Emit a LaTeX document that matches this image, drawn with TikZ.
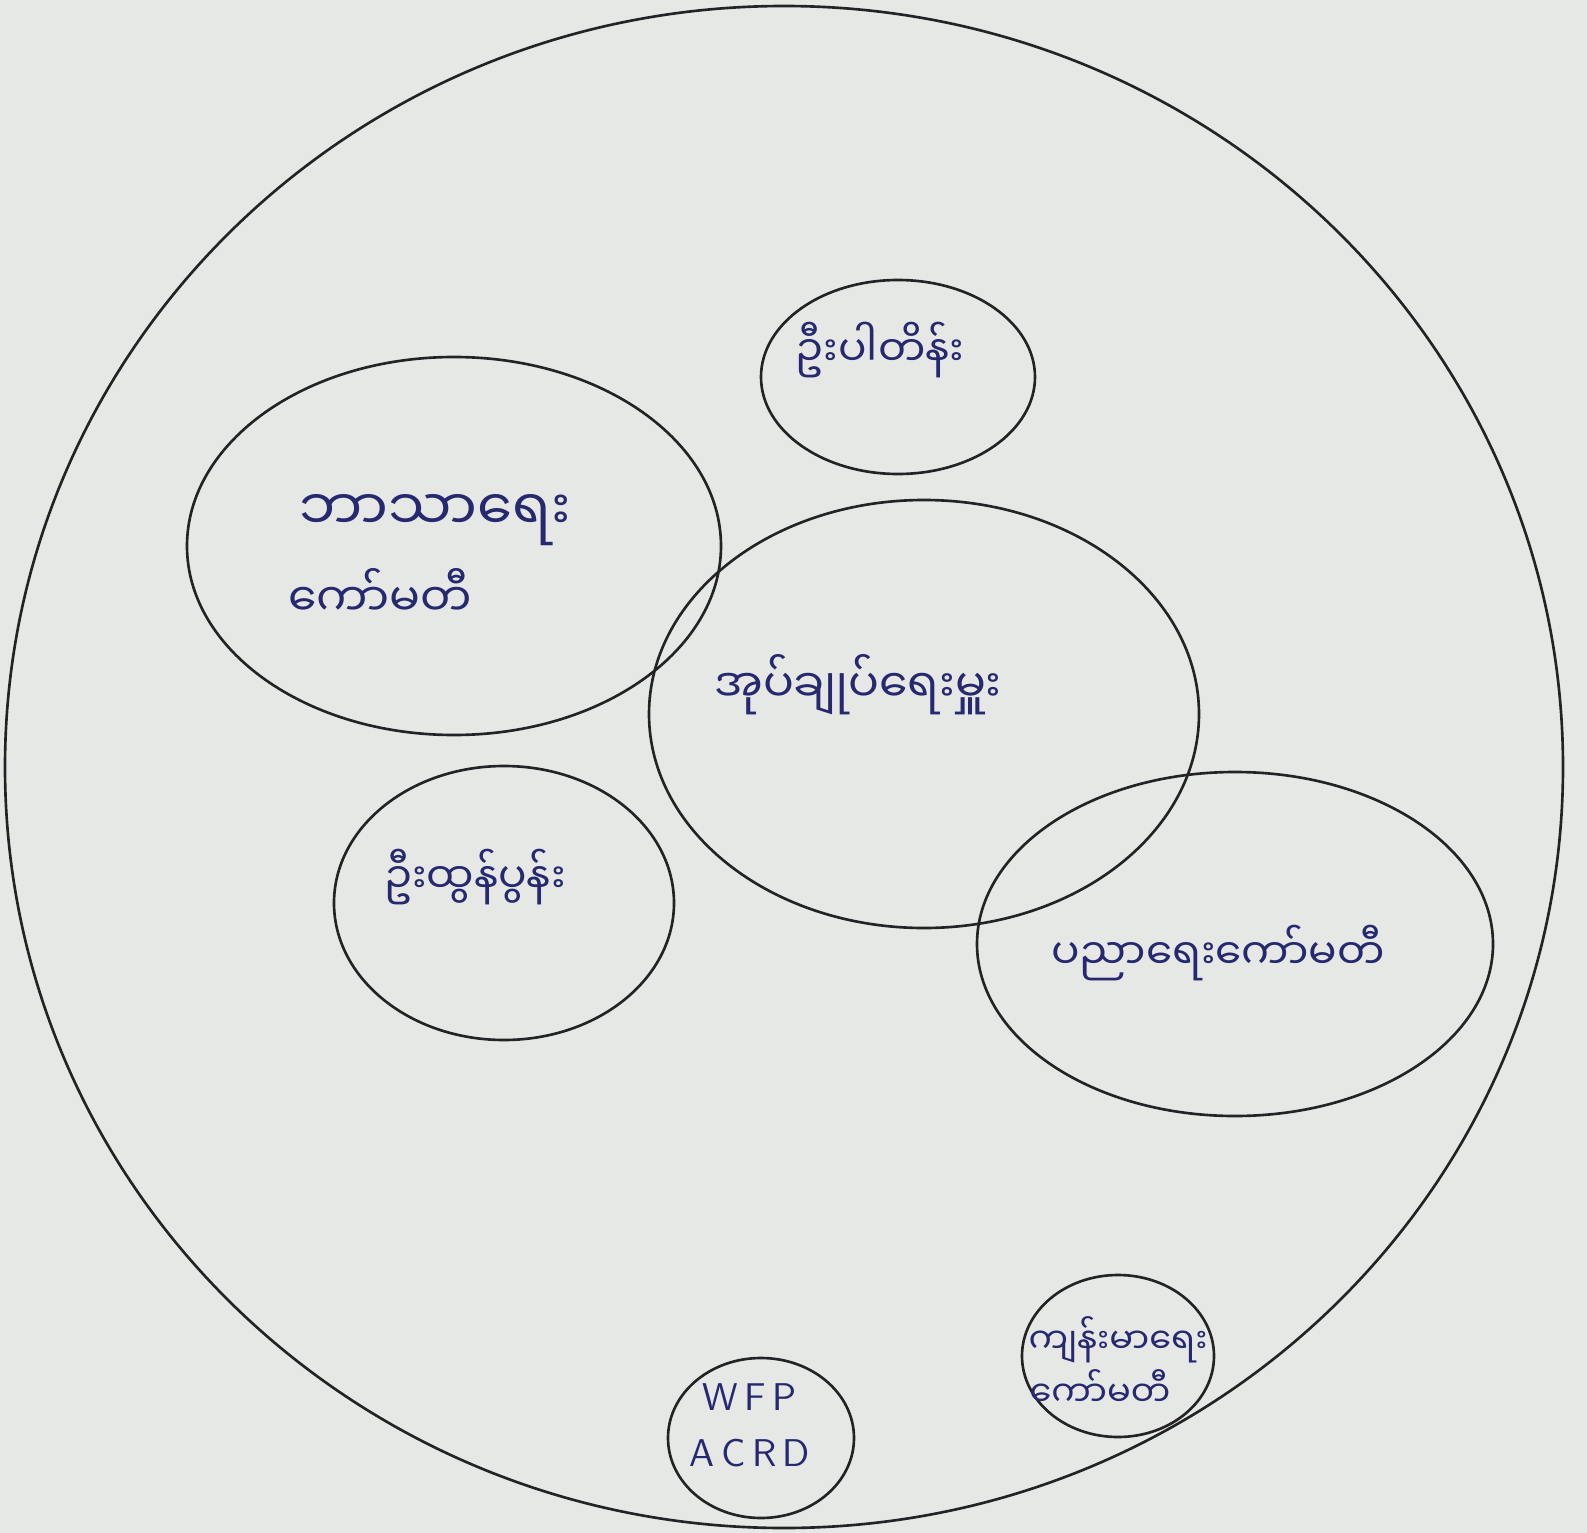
\documentclass[tikz,border=0pt]{standalone}
\usepackage{fontspec}
\usepackage{tikz}
\newfontfamily\mmfont[Script=Myanmar]{Noto Sans Myanmar UI}
\definecolor{paper}{RGB}{230,232,230}
\definecolor{ink}{RGB}{38,40,112}
\definecolor{pen}{RGB}{35,35,38}

\begin{document}
\begin{tikzpicture}[x=0.01cm, y=-0.01cm,
		ring/.style={draw=pen, line width=0.75pt},
		lbl/.style={text=ink, font=\mmfont\fontsize{13}{16}\selectfont, inner sep=0pt, align=center}]
				% Paper
				\fill[paper] (0,0) rectangle (1587,1533);
				\useasboundingbox (0,0) rectangle (1587,1533);

				% Draw the village circle
				\draw[ring] (784,767) ellipse [x radius=779, y radius=761];

				% Draw the groups
				\draw[ring] (898,377) ellipse [x radius=137, y radius=97];
				\draw[ring] (454,546) ellipse [x radius=267, y radius=189];
				\draw[ring] (924,714) ellipse [x radius=275, y radius=214];
				\draw[ring] (504,903) ellipse [x radius=170, y radius=137];
				\draw[ring] (1235,944) ellipse [x radius=258, y radius=172];
				\draw[ring] (1118,1356) ellipse [x radius=96, y radius=81];
				\draw[ring] (761,1438) ellipse [x radius=93, y radius=80];

				\node[lbl, font=\mmfont\fontsize{12}{15}\selectfont] (pati) at (880,350) {ဦးပါတိန်း};
				\node[lbl, font=\mmfont\fontsize{16}{20}\selectfont] (religion) at (435,520) {ဘာသာရေး};
				\node[lbl] (religioncmt) at (380,592) {ကော်မတီ};
				\node[lbl] (admin) at (858,685) {အုပ်ချုပ်ရေးမှူး};
				\node[lbl, font=\mmfont\fontsize{12}{15}\selectfont] (htun) at (475,877) {ဦးထွန်ပွန်း};
				\node[lbl, font=\mmfont\fontsize{12}{15}\selectfont] (education) at (1218,953) {ပညာရေးကော်မတီ};
				\node[lbl, font=\mmfont\fontsize{10}{12}\selectfont] (health) at (1118,1340) {ကျန်းမာရေး};
				\node[lbl, font=\mmfont\fontsize{10}{12}\selectfont] (healthcmt) at (1100,1388) {ကော်မတီ};
				\node[lbl, font=\sffamily\fontsize{11}{16}\selectfont] (wfp) at (750,1425) {W\,F\,P\\A\,C\,R\,D};

			\end{tikzpicture}
\end{document}
